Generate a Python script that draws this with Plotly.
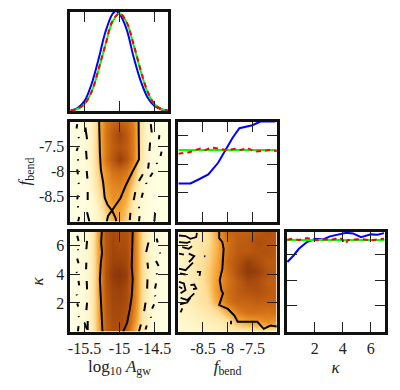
import plotly.graph_objects as go

# ---------- grids and categories ----------
amp_grid = [-15.7, -15.6, -15.5, -15.4, -15.3, -15.2, -15.1, -15.0, -14.9, -14.8, -14.7, -14.6, -14.5, -14.4, -14.3]
fb_rows = [-9, -8.75, -8.5, -8.25, -8, -7.75, -7.5, -7.25, -7]
kap_rows = [0, 1, 2, 3, 4, 5, 6, 7]
fb_cols = [-9, -8.8, -8.6, -8.4, -8.2, -8, -7.8, -7.6, -7.4, -7.2, -7]
kap_rows2 = [0, .7, 1.4, 2.1, 2.8, 3.5, 4.2, 4.9, 5.6, 6.3, 7]

density_amp_fb = [
    [0, 0, .01, .03, .10, .22, .36, .38, .28, .14, .05, .01, 0, 0, 0],
    [0, 0, .01, .04, .13, .30, .42, .42, .32, .16, .05, .02, 0, 0, 0],
    [0, 0, .02, .06, .20, .38, .48, .47, .38, .20, .08, .02, .01, 0, 0],
    [0, .01, .03, .09, .26, .43, .52, .54, .47, .28, .11, .03, .01, 0, 0],
    [0, .01, .03, .11, .30, .48, .60, .64, .58, .38, .15, .05, .01, 0, 0],
    [0, .01, .04, .13, .34, .58, .76, .90, .78, .54, .22, .07, .02, 0, 0],
    [0, .01, .04, .13, .34, .56, .72, .78, .72, .54, .22, .07, .02, 0, 0],
    [0, .01, .04, .13, .34, .58, .74, .86, .74, .54, .22, .07, .02, 0, 0],
    [0, .01, .04, .13, .33, .55, .67, .70, .66, .52, .22, .07, .02, 0, 0],
]
density_amp_kap = [
    [0, .01, .05, .14, .38, .70, .80, .80, .70, .42, .20, .08, .03, .01, 0],
    [0, .01, .05, .15, .40, .72, .84, .84, .78, .52, .26, .11, .04, .01, 0],
    [0, .01, .05, .15, .40, .74, .86, .86, .82, .58, .28, .12, .04, .01, 0],
    [0, .01, .05, .15, .42, .76, .88, .90, .84, .60, .30, .13, .04, .01, 0],
    [0, .01, .05, .15, .40, .78, .94, .98, .90, .62, .30, .13, .04, .01, 0],
    [0, .01, .05, .15, .41, .76, .88, .88, .84, .62, .30, .13, .04, .01, 0],
    [0, .01, .05, .15, .42, .76, .86, .82, .82, .62, .30, .13, .04, .01, 0],
    [0, .01, .05, .14, .42, .76, .84, .80, .80, .61, .30, .12, .04, .01, 0],
]
density_fb_kap = [
    [.05, .07, .09, .10, .12, .15, .17, .18, .20, .20, .22],
    [.07, .10, .12, .14, .16, .22, .36, .42, .44, .50, .45],
    [.08, .12, .16, .20, .25, .38, .55, .62, .62, .60, .62],
    [.10, .14, .20, .25, .40, .60, .68, .68, .72, .70, .70],
    [.10, .15, .20, .28, .45, .62, .72, .78, .80, .75, .68],
    [.10, .14, .20, .30, .44, .58, .72, .84, .82, .72, .70],
    [.08, .14, .22, .30, .42, .62, .80, .95, .90, .78, .72],
    [.08, .15, .22, .28, .40, .66, .78, .90, .82, .74, .72],
    [.10, .14, .20, .27, .38, .62, .74, .75, .78, .80, .74],
    [.08, .12, .18, .25, .38, .60, .72, .74, .82, .78, .76],
    [.08, .10, .16, .25, .42, .66, .70, .70, .75, .80, .76],
]

# ---------- 1-D posteriors ----------
amp_blue_x = [-15.7, -15.6, -15.5, -15.4, -15.3, -15.2, -15.1, -15.05, -15.0, -14.9, -14.8, -14.7, -14.6, -14.5, -14.4, -14.3]
amp_blue_y = [.005, .03, .10, .27, .52, .80, .98, 1.01, .98, .83, .55, .31, .14, .05, .015, 0]
amp_green_y = [.003, .02, .07, .19, .41, .67, .90, .985, .90, .67, .41, .19, .07, .02, .003]
amp_red_y = [.004, .02, .07, .19, .42, .67, .91, .985, .90, .68, .42, .20, .07, .02, .003]

fb_blue_x = [-9, -8.755, -8.589, -8.391, -8.192, -8.06, -7.894, -7.76, -7.497, -7.33, -7.03]
fb_blue_y = [.266, .266, .294, .329, .411, .494, .588, .653, .674, .70, .70]
fb_flat_x = [-9, -7]
fb_flat_y = [.5, .5]
fb_red_x = [-9, -8.755, -8.656, -8.556, -8.457, -8.325, -8.192, -8.027, -7.828, -7.73, -7.596, -7.464, -7.265, -7.166, -7.0]
fb_red_y = [.475, .486, .50, .51, .50, .517, .51, .50, .51, .50, .515, .489, .494, .50, .494]

kap_blue_x = [.05, .51, .87, 1.45, 2.04, 2.62, 3.09, 3.67, 4.26, 4.73, 5.31, 6.01, 6.48, 6.95]
kap_blue_y = [.1085, .119, .129, .1395, .1447, .1437, .1484, .151, .154, .153, .147, .1515, .151, .1535]
kap_flat_x = [0, 7]
kap_flat_y = [.1429, .1429]
kap_red_x = [.05, .4, .87, 1.45, 1.92, 2.27, 2.74, 3.32, 3.79, 4.02, 4.19, 4.38, 5.31, 6.01, 6.48, 6.95]
kap_red_y = [.1432, .1448, .1427, .1458, .1437, .1422, .1437, .1437, .1463, .1422, .137, .1427, .1442, .1422, .1437, .1448]

# ---------- contours ----------
c1_x = [-15.29, -15.29, -15.28, -15.266, -15.233, -15.21, -15.172, -15.102, -15.055, -15.046, None,
        -14.727, -14.722, -14.722, -14.82, -14.914, -14.985, -15.055, -15.102, -15.163, -15.182]
c1_y = [-7.0, -7.29, -7.62, -7.96, -8.22, -8.53, -8.66, -8.79, -8.93, -9, None,
        -7.0, -7.35, -7.76, -8.02, -8.29, -8.53, -8.69, -8.77, -8.89, -9]
c1d_x = [-15.487, -15.463, None, -15.477, -15.468, None, -15.468, -15.458, None, -15.454, -15.454, None, -15.463, -15.43, None,
         -15.604, -15.613, None, -15.585, -15.58, None, -15.594, -15.613, None, -15.594, -15.59, None, -15.604, -15.594, None,
         -15.585, -15.58, None, -15.594, -15.604, None, -15.594, -15.59, None, -15.576, -15.59, None,
         -14.553, -14.539, None, -14.563, -14.572, None, -14.581, -14.591, None, -14.666, -14.722, None, -14.774, -14.797, None,
         -14.844, -14.853, None, -14.431, -14.436, None, -14.399, -14.413, None, -14.469, -14.464, None, -14.525, -14.563, None,
         -14.619, -14.614, None, -14.666, -14.685, None, -14.722, -14.717, None, -14.713, -14.722, None, -14.492, -14.502]
c1d_y = [-7.12, -7.355, None, -7.589, -7.756, None, -7.99, -8.144, None, -8.412, -8.572, None, -8.813, -9, None,
         -7.054, -7.14, None, -7.308, -7.335, None, -7.52, -7.589, None, -7.756, -7.783, None, -7.957, -8.057, None,
         -8.224, -8.25, None, -8.478, -8.559, None, -8.693, -8.719, None, -8.907, -9, None,
         -7.054, -7.22, None, -7.42, -7.589, None, -7.823, -7.943, None, -8.057, -8.191, None, -8.412, -8.572, None,
         -8.826, -8.974, None, -7.274, -7.355, None, -7.602, -7.689, None, -7.823, -7.85, None, -8.024, -8.104, None,
         -8.224, -8.25, None, -8.425, -8.525, None, -8.706, -8.733, None, -8.893, -9, None, -8.826, -9]

c2_x = [-15.252, -15.262, -15.248, -15.266, -15.28, -15.266, -15.252, -15.243, None,
        -14.811, -14.816, -14.811, -14.825, -14.811, -14.825, -14.853, -14.891, -14.947]
c2_y = [7, 6.23, 5.53, 4.82, 3.65, 2.48, 1.55, 0, None,
        7, 6.23, 5.53, 4.59, 3.65, 2.48, 1.55, .61, 0]
c2d_x = [-15.463, -15.473, None, -15.473, -15.477, None, -15.468, -15.463, None, -15.463, -15.473, None, -15.5, -15.463, None, -15.454, -15.454, None,
         -15.604, -15.585, None, -15.594, -15.59, None, -15.604, -15.585, None, -15.613, -15.608, None, -15.585, -15.576, None,
         -15.613, -15.608, None, -15.604, -15.59, None, -15.585, -15.58, None, -15.585, -15.594, None,
         -14.586, -14.619, None, -14.6, -14.591, None, -14.6, -14.605, None, -14.628, -14.647, None, -14.694, -14.722, None, -14.61, -14.628, None,
         -14.469, -14.455, None, -14.422, -14.417, None, -14.478, -14.441, None, -14.469, -14.464, None, -14.478, -14.492, None,
         -14.492, -14.488, None, -14.506, -14.534, None, -14.553, -14.548]
c2d_y = [6.345, 5.76, None, 4.82, 4.36, None, 3.54, 2.95, None, 2.02, 1.5, None, .61, .14, None, .73, .1, None,
         6.7, 6.34, None, 5.76, 5.69, None, 5.1, 4.78, None, 4.17, 4.1, None, 3.54, 3.23, None,
         2.6, 2.53, None, 1.97, 1.74, None, 1.08, 1.01, None, .38, 0, None,
         6.23, 5.57, None, 4.82, 4.4, None, 3.65, 3.0, None, 2.02, 1.43, None, .49, 0, None, .42, .14, None,
         6.51, 6.23, None, 5.53, 5.46, None, 4.94, 4.59, None, 4.08, 4.0, None, 3.37, 3.0, None,
         2.53, 2.46, None, 1.9, 1.6, None, 1.03, .96]

c3_x = [-8.17, -8.17, -8.106, -8.08, -8.093, -8.106, -8.16, -8.126, -8.093, -8.17, -7.994, -7.861, -7.795, -7.53, -7.398, -7.266, -7.133, -7.0, None, -7.93, -7.93]
c3_y = [7, 6.54, 6.26, 5.79, 5.1, 4.4, 3.59, 2.9, 2.67, 1.85, 1.58, 1.11, .69, .69, .69, .185, .42, .35, None, .76, .51]
c3d_x = [-8.987, -8.854, -8.755, -8.636, -8.623, None, -8.987, -8.82, -8.755, None, -8.92, -8.788, -8.722, None, -8.987, -8.887, None,
         -8.788, -8.676, -8.742, -8.788, None, -8.987, -8.854, -8.788, -8.702, None, -8.967, -8.854, None, -8.623, -8.556, -8.57, None,
         -8.477, -8.45, None, -8.987, -8.887, -8.854, -8.954, None, -8.755, -8.676, -8.636, -8.702, None, -8.954, -8.82, -8.676, None,
         -8.967, -8.82, -8.755, None, -8.954, -8.92, None, -8.987, -8.92]
c3d_y = [6.72, 6.68, 6.49, 6.61, 6.91, None, 6.26, 6.21, 6.3, None, 5.91, 5.79, 5.98, None, 5.45, 5.38, None,
         5.45, 5.28, 5.0, 4.87, None, 4.4, 4.29, 4.52, 4.82, None, 4.06, 3.99, None, 4.17, 4.17, 3.89, None,
         5.28, 5.26, None, 3.48, 3.36, 2.9, 2.67, None, 3.24, 3.29, 3.01, 2.97, None, 2.36, 2.2, 2.67, None,
         1.9, 2.04, 2.36, None, 1.34, 1.62, None, 3.13, 3.01]

# ---------- axis labels ----------
amp_ticks = [-15.5, -15, -14.5]
amp_text = ["-15.5", "-15", "-14.5"]
fb_ticks = [-8.5, -8, -7.5]
fb_text = ["-8.5", "-8", "-7.5"]
kap_ticks = [2, 4, 6]
kap_text = ["2", "4", "6"]
amp_title = "log<sub>10</sub> <i>A</i><sub>gw</sub>"
fb_title = "<i>f</i><sub>bend</sub>"
kap_title = "<i>κ</i>"

# ---------- styling ----------
W, H = 400, 390
cols = [(68.5 / W, 168 / W), (178 / W, 278 / W), (288 / W, 387.5 / W)]
rows = [((H - 111) / H, (H - 12) / H), ((H - 221.5) / H, (H - 121.5) / H), ((H - 331.5) / H, (H - 231.5) / H)]
FONT = "Liberation Serif"
cscale = [[0, "#FFFFE2"], [.1, "#FFF5C8"], [.25, "#FEDF98"], [.4, "#F6A534"], [.58, "#D87618"], [.78, "#B4540E"], [1, "#843208"]]


def ax(domain, rng, anchor, tv=None, tt=None, title=None, standoff=6):
    d = dict(domain=domain, range=rng, anchor=anchor, showgrid=False, zeroline=False,
             showline=True, linecolor="#111111", linewidth=3, mirror="allticks",
             ticks="inside", ticklen=10, tickwidth=1, tickcolor="#222222",
             tickfont=dict(family=FONT, size=16, color="#222222"), layer="above traces")
    if tv is None:
        d.update(showticklabels=False, ticks="")
    else:
        d.update(tickmode="array", tickvals=tv)
        if tt:
            d["ticktext"] = tt
        else:
            d["showticklabels"] = False
    if title:
        d["title"] = dict(text=title, standoff=standoff, font=dict(family=FONT, size=17, color="#222222"))
    return d


fig = go.Figure()


def line(x, y, xa, ya, color, width=2, dash="solid", smooth=False):
    fig.add_trace(go.Scatter(x=x, y=y, xaxis=xa, yaxis=ya, mode="lines", showlegend=False, hoverinfo="skip",
                             line=dict(color=color, width=width, dash=dash,
                                       shape="spline" if smooth else "linear")))


def heat(x, y, z, xa, ya):
    fig.add_trace(go.Heatmap(x=x, y=y, z=z, xaxis=xa, yaxis=ya, colorscale=cscale, zmin=0, zmax=1,
                             zsmooth="best", showscale=False, hoverinfo="skip"))


DASH = "5px,4px"
# diagonal 1
line(amp_blue_x, amp_blue_y, "x", "y", "#0000FF", smooth=True)
line(amp_grid, amp_green_y, "x", "y", "#00FF00", smooth=True)
line(amp_grid, amp_red_y, "x", "y", "#FF0000", dash=DASH, smooth=True)
# row 2
heat(amp_grid, fb_rows, density_amp_fb, "x2", "y2")
line(c1_x, c1_y, "x2", "y2", "black")
line(c1d_x, c1d_y, "x2", "y2", "black")
line(fb_blue_x, fb_blue_y, "x3", "y3", "#0000FF")
line(fb_flat_x, fb_flat_y, "x3", "y3", "#00FF00")
line(fb_red_x, fb_red_y, "x3", "y3", "#FF0000", dash=DASH)
# row 3
heat(amp_grid, kap_rows, density_amp_kap, "x4", "y4")
line(c2_x, c2_y, "x4", "y4", "black")
line(c2d_x, c2d_y, "x4", "y4", "black")
heat(fb_cols, kap_rows2, density_fb_kap, "x5", "y5")
line(c3_x, c3_y, "x5", "y5", "black")
line(c3d_x, c3d_y, "x5", "y5", "black", width=1.8)
line(kap_blue_x, kap_blue_y, "x6", "y6", "#0000FF")
line(kap_flat_x, kap_flat_y, "x6", "y6", "#00FF00")
line(kap_red_x, kap_red_y, "x6", "y6", "#FF0000", dash=DASH)

AMP_R = [-15.7, -14.3]
FB_R = [-9, -7]
KAP_R = [0, 7]
fig.update_layout(
    width=W, height=H, margin=dict(l=0, r=0, t=0, b=0), paper_bgcolor="white", plot_bgcolor="white",
    showlegend=False,
    xaxis=ax(cols[0], AMP_R, "y", amp_ticks),
    yaxis=ax(rows[0], [0, 1.0], "x"),
    xaxis2=ax(cols[0], AMP_R, "y2", amp_ticks),
    yaxis2=ax(rows[1], FB_R, "x2", fb_ticks, fb_text, fb_title, 4),
    xaxis3=ax(cols[1], FB_R, "y3", fb_ticks),
    yaxis3=ax(rows[1], [0, .7], "x3", [.2, .4, .6]),
    xaxis4=ax(cols[0], AMP_R, "y4", amp_ticks, amp_text, amp_title, 2),
    yaxis4=ax(rows[2], KAP_R, "x4", kap_ticks, kap_text, kap_title, 9),
    xaxis5=ax(cols[1], FB_R, "y5", fb_ticks, fb_text, fb_title, 2),
    yaxis5=ax(rows[2], KAP_R, "x5", kap_ticks),
    xaxis6=ax(cols[2], KAP_R, "y6", kap_ticks, kap_text, kap_title, 6),
    yaxis6=ax(rows[2], [0, .156], "x6", [.04, .08, .12]),
)
fig.write_html("out.html", post_script="document.body.style.margin='0';",
               config={"displayModeBar": False})
